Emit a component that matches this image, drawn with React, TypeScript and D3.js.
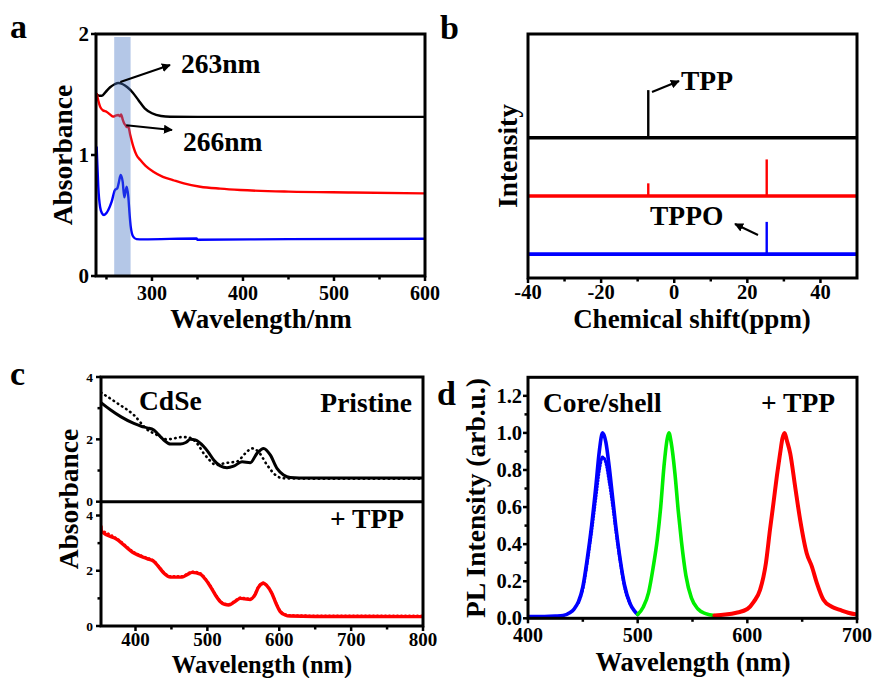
import React from 'react';
import * as d3 from 'd3';

type P = [number, number];
const FONT = "'Liberation Serif', 'Times New Roman', Times, serif";

// ---------- Panel a (UV-vis absorbance) ----------
const aBlack: P[] = [[239.5,1.50],[242,1.49],[245,1.49],[249,1.52],[254,1.56],[259,1.585],[263,1.595],[268,1.585],[273,1.56],[279,1.515],[285,1.455],[292,1.386],[300,1.345],[310,1.322],[320,1.316],[350,1.315],[450,1.315],[600,1.315]];
const aRed: P[] = [[239.3,1.51],[241,1.45],[243,1.40],[246,1.37],[250,1.358],[254,1.335],[257.5,1.317],[260,1.325],[263,1.33],[265,1.32],[266,1.335],[268,1.29],[269.5,1.26],[271,1.245],[272.5,1.23],[274,1.235],[276,1.17],[279.5,1.07],[283,1.0],[287,0.96],[293,0.91],[301.5,0.862],[312,0.82],[323,0.793],[335,0.765],[353,0.738],[375,0.722],[397,0.711],[450,0.697],[520,0.69],[600,0.683]];
const aBlue: P[] = [[239.2,1.07],[240,0.92],[241,0.74],[243,0.57],[245,0.52],[247.3,0.504],[250,0.52],[252,0.545],[255.7,0.614],[259.3,0.71],[261.9,0.725],[263.5,0.77],[265.6,0.835],[267.8,0.78],[269.6,0.65],[272.2,0.738],[274,0.655],[275.5,0.50],[276.6,0.41],[279.4,0.325],[283,0.305],[290,0.303],[349,0.31],[350,0.30],[450,0.305],[600,0.308]];
const aBand: P = [258.5, 276.5];
const aXTicks = [300, 400, 500, 600];
const aXMinor = [250, 350, 450, 550];
const aYTicks = [0, 1, 2];

// ---------- Panel b (31P NMR) ----------
const bXTicks = [-40, -20, 0, 20, 40];
const bXMinor = [-30, -10, 10, 30];
const bOffsets = [0.575, 0.336, 0.098]; // black, red, blue baselines
const bColors = ['#000000', '#ff0000', '#0000ff'];
const bPeaks: { ppm: number; h: number }[][] = [
  [{ ppm: -7.1, h: 0.195 }],
  [{ ppm: -7.1, h: 0.052 }, { ppm: 25.3, h: 0.15 }],
  [{ ppm: 25.3, h: 0.132 }],
];

// ---------- Panel c (CdSe absorbance) ----------
const cSolid: P[] = [[352,3.18],[365,2.95],[380,2.72],[397.7,2.51],[408,2.42],[416,2.37],[425.5,2.30],[432,2.15],[439.3,1.98],[448.6,1.85],[462.5,1.85],[470,1.9],[476.4,2.0],[483.3,1.98],[494.9,1.77],[501,1.6],[508.8,1.34],[518,1.15],[527.3,1.09],[536.6,1.14],[548.2,1.28],[559.7,1.25],[569,1.55],[578.2,1.71],[587.5,1.5],[596.8,1.07],[606,0.86],[615.3,0.78],[640,0.76],[700,0.76],[800,0.76]];
const cDotted: P[] = [[352,3.5],[374.6,3.16],[397.7,2.78],[416,2.32],[430,2.14],[444,2.0],[452,2.02],[462.5,2.07],[471.8,2.07],[485.7,1.87],[494.9,1.55],[502,1.36],[508.8,1.21],[515,1.18],[522.7,1.23],[532,1.26],[541.2,1.29],[552.8,1.55],[562,1.71],[571.2,1.6],[583,1.18],[596.8,0.82],[606,0.75],[650,0.74],[800,0.74]];
const cRed: P[] = [[352,3.6],[352.5,3.43],[374.6,3.13],[397.7,2.64],[416,2.44],[425.5,2.34],[432,2.15],[439.3,1.92],[448.6,1.77],[464.8,1.77],[472,1.86],[478.7,1.94],[490.3,1.88],[497,1.7],[504.2,1.43],[511,1.13],[518.1,0.88],[524,0.78],[529.7,0.76],[537,0.86],[545.8,1.0],[552,0.98],[559.7,0.96],[566,1.12],[571,1.4],[578.2,1.55],[583,1.45],[589.8,1.18],[595,0.85],[601.4,0.52],[608,0.4],[615.3,0.36],[650,0.345],[800,0.34]];
const cRedDot: P[] = [[352,3.47],[374.6,3.16],[397.7,2.68],[416,2.47],[425.5,2.37],[432,2.18],[439.3,1.95],[448.6,1.8],[464.8,1.8],[472,1.89],[478.7,1.97],[490.3,1.91],[497,1.73],[504.2,1.46],[511,1.16],[518.1,0.91],[524,0.81],[529.7,0.79],[537,0.89],[545.8,1.03],[552,1.01],[559.7,0.99],[566,1.15],[571,1.43],[578.2,1.57],[583,1.47],[589.8,1.2],[595,0.88],[601.4,0.55],[608,0.43],[615.3,0.39],[650,0.375],[800,0.37]];
const cXTicks = [400, 500, 600, 700, 800];
const cXMinor = [450, 550, 650, 750];
const cYTicks = [0, 2, 4];
const cYMinor = [1, 3];

// ---------- Panel d (PL) ----------
const dBlue: P[] = [[400,0.01],[415,0.01],[425,0.012],[432,0.015],[438,0.03],[442,0.05],[446,0.09],[450,0.17],[454,0.32],[458,0.5],[462,0.72],[465,0.9],[468,1.0],[471,0.95],[474,0.82],[477,0.66],[480,0.5],[484,0.32],[488,0.18],[493,0.08],[497,0.04],[500,0.02]];
const dBlueDot: P[] = [[446,0.085],[450,0.16],[454,0.3],[458,0.47],[462,0.66],[465,0.8],[468,0.87],[471,0.84],[474,0.74],[477,0.62],[480,0.48],[484,0.31],[488,0.17],[493,0.08]];
const dGreen: P[] = [[500,0.02],[505,0.06],[510,0.14],[514,0.27],[518,0.43],[521,0.6],[524,0.82],[527,0.97],[528.5,1.0],[530.5,0.95],[534,0.78],[537,0.58],[540,0.41],[544,0.23],[549,0.11],[555,0.05],[562,0.025],[570,0.015]];
const dRed: P[] = [[570,0.015],[580,0.02],[590,0.03],[600,0.05],[606,0.09],[611.6,0.153],[617,0.3],[620.7,0.48],[623.8,0.62],[627,0.77],[629.9,0.89],[632,0.97],[634,1.0],[636,0.96],[639.1,0.89],[643.6,0.71],[648.2,0.53],[654.2,0.35],[658.8,0.28],[663.4,0.19],[669.4,0.1],[677,0.062],[684.6,0.045],[692,0.03],[700,0.02]];
const dXTicks = [400, 500, 600, 700];
const dXMinor = [450, 550, 650];
const dYTicks = [0, 0.2, 0.4, 0.6, 0.8, 1.0, 1.2];
const dYMinor = [0.1, 0.3, 0.5, 0.7, 0.9, 1.1];

type Scale = d3.ScaleLinear<number, number>;

function BottomTicks({ x, y0, majors, minors, labelY, fs, fmt }: { x: Scale; y0: number; majors: number[]; minors: number[]; labelY: number; fs: number; fmt?: (v: number) => string }) {
  return (
    <g>
      {majors.map((v) => (
        <g key={'M' + v}>
          <line x1={x(v)} x2={x(v)} y1={y0} y2={y0 + 5} stroke="#000" strokeWidth={2.5} />
          <text x={x(v)} y={labelY} textAnchor="middle" fontSize={fs}>{fmt ? fmt(v) : String(v)}</text>
        </g>
      ))}
      {minors.map((v) => (
        <line key={'m' + v} x1={x(v)} x2={x(v)} y1={y0} y2={y0 + 3.5} stroke="#000" strokeWidth={2.5} />
      ))}
    </g>
  );
}

function LeftTicks({ y, x0, majors, minors, labelX, fs, fmt }: { y: Scale; x0: number; majors: number[]; minors: number[]; labelX: number; fs: number; fmt?: (v: number) => string }) {
  return (
    <g>
      {majors.map((v) => (
        <g key={'M' + v}>
          <line x1={x0 - 5} x2={x0} y1={y(v)} y2={y(v)} stroke="#000" strokeWidth={2.5} />
          <text x={labelX} y={y(v)} dy="0.35em" textAnchor="end" fontSize={fs}>{fmt ? fmt(v) : String(v)}</text>
        </g>
      ))}
      {minors.map((v) => (
        <line key={'m' + v} x1={x0 - 3.5} x2={x0} y1={y(v)} y2={y(v)} stroke="#000" strokeWidth={2.5} />
      ))}
    </g>
  );
}

export default function App() {
  // ---- scales
  const xa = d3.scaleLinear().domain([238.5, 600]).range([96, 425]);
  const ya = d3.scaleLinear().domain([0, 2]).range([276, 34]);
  const xb = d3.scaleLinear().domain([-40, 50]).range([528, 857]);
  const yb = d3.scaleLinear().domain([0, 1]).range([278, 34]);
  const xc = d3.scaleLinear().domain([352, 800]).range([101, 423]);
  const ycTop = d3.scaleLinear().domain([0, 4]).range([501.7, 377]);
  const ycBot = d3.scaleLinear().domain([0, 4.5]).range([626, 501.7]);
  const xd = d3.scaleLinear().domain([400, 700]).range([528, 857]);
  const yd = d3.scaleLinear().domain([0, 1.3]).range([618.3, 377.3]);

  const la = d3.line<P>().x((d) => xa(d[0])).y((d) => ya(d[1])).curve(d3.curveMonotoneX);
  const lcT = d3.line<P>().x((d) => xc(d[0])).y((d) => ycTop(d[1])).curve(d3.curveMonotoneX);
  const lcB = d3.line<P>().x((d) => xc(d[0])).y((d) => ycBot(d[1])).curve(d3.curveMonotoneX);
  const ld = d3.line<P>().x((d) => xd(d[0])).y((d) => yd(d[1])).curve(d3.curveMonotoneX);

  const t = { fontFamily: FONT, fontWeight: 'bold' as const };

  return (
    <svg width={873} height={678} style={{ position: 'absolute', left: 0, top: 0, background: '#fff' }} {...t}>
      <defs>
        <marker id="arr" viewBox="0 0 10 10" refX="9" refY="5" markerWidth="9" markerHeight="9" markerUnits="userSpaceOnUse" orient="auto">
          <path d="M0,0 L10,5 L0,10 z" fill="#000" />
        </marker>
        <clipPath id="ca"><rect x={96} y={34} width={329} height={242} /></clipPath>
        <clipPath id="cc"><rect x={101} y={377} width={322} height={249} /></clipPath>
        <clipPath id="cd"><rect x={528} y={377.3} width={329} height={241} /></clipPath>
      </defs>

      {/* ================= Panel a ================= */}
      <text x={10} y={38} fontSize={34}>a</text>
      <g clipPath="url(#ca)" fill="none" strokeLinejoin="round">
        <path d={la(aBlack) || ''} stroke="#000" strokeWidth={2.4} />
        <path d={la(aRed) || ''} stroke="#ff0000" strokeWidth={2.4} />
        <path d={la(aBlue) || ''} stroke="#0000ff" strokeWidth={2.4} />
        <rect x={xa(aBand[0])} y={ya(2) + 3} width={xa(aBand[1]) - xa(aBand[0])} height={ya(0) - ya(2) - 3} fill="#4472c4" fillOpacity={0.4} stroke="none" />
      </g>
      <rect x={96} y={34} width={329} height={242} fill="none" stroke="#000" strokeWidth={3} />
      <BottomTicks x={xa} y0={276} majors={aXTicks} minors={aXMinor} labelY={299.5} fs={20} />
      <LeftTicks y={ya} x0={96} majors={aYTicks} minors={[]} labelX={89} fs={21} />
      <line x1={xa(263) + 2} y1={ya(1.595) - 1} x2={170} y2={65} stroke="#000" strokeWidth={2} markerEnd="url(#arr)" />
      <text x={181} y={73} fontSize={27.5}>263nm</text>
      <line x1={xa(269.5) + 2} y1={ya(1.245)} x2={172} y2={130} stroke="#000" strokeWidth={2} markerEnd="url(#arr)" />
      <text x={183} y={151} fontSize={27.5}>266nm</text>
      <text x={261} y={328} textAnchor="middle" fontSize={27}>Wavelength/nm</text>
      <text transform="translate(71.5,155) rotate(-90)" textAnchor="middle" fontSize={27.5}>Absorbance</text>

      {/* ================= Panel b ================= */}
      <text x={440} y={39} fontSize={34}>b</text>
      {bOffsets.map((off, i) => (
        <g key={'nmr' + i}>
          <line x1={xb(-40)} x2={xb(50)} y1={yb(off)} y2={yb(off)} stroke={bColors[i]} strokeWidth={3.6} />
          {bPeaks[i].map((p, j) => (
            <line key={j} x1={xb(p.ppm)} x2={xb(p.ppm)} y1={yb(off)} y2={yb(off + p.h)} stroke={bColors[i]} strokeWidth={2.4} />
          ))}
        </g>
      ))}
      <rect x={528} y={34} width={329} height={244} fill="none" stroke="#000" strokeWidth={3} />
      <BottomTicks x={xb} y0={278} majors={bXTicks} minors={bXMinor} labelY={298.5} fs={20.5} />
      <line x1={652} y1={92} x2={679} y2={81} stroke="#000" strokeWidth={2} markerEnd="url(#arr)" />
      <text x={681} y={90} fontSize={27.5}>TPP</text>
      <line x1={758} y1={235} x2={735} y2={224} stroke="#000" strokeWidth={2} markerEnd="url(#arr)" />
      <text x={650} y={225} fontSize={27.5}>TPPO</text>
      <text x={692} y={328} textAnchor="middle" fontSize={27}>Chemical shift(ppm)</text>
      <text transform="translate(517,156) rotate(-90)" textAnchor="middle" fontSize={27.5}>Intensity</text>

      {/* ================= Panel c ================= */}
      <text x={10} y={385} fontSize={34}>c</text>
      <g clipPath="url(#cc)" fill="none" strokeLinejoin="round" strokeLinecap="round">
        <path d={lcT(cDotted) || ''} stroke="#000" strokeWidth={2.6} strokeDasharray="0.5,4.5" />
        <path d={lcT(cSolid) || ''} stroke="#000" strokeWidth={3} />
        <path d={lcB(cRed) || ''} stroke="#ff0000" strokeWidth={3.4} />
        <path d={lcB(cRedDot) || ''} stroke="#ff0000" strokeWidth={2.4} strokeDasharray="0.5,3.5" />
      </g>
      <rect x={101} y={377} width={322} height={249} fill="none" stroke="#000" strokeWidth={3} />
      <line x1={101} x2={423} y1={501.7} y2={501.7} stroke="#000" strokeWidth={3} />
      <BottomTicks x={xc} y0={626} majors={cXTicks} minors={cXMinor} labelY={646} fs={19} />
      <LeftTicks y={ycTop} x0={101} majors={cYTicks} minors={cYMinor} labelX={93} fs={13.5} />
      <LeftTicks y={ycBot} x0={101} majors={cYTicks} minors={cYMinor} labelX={93} fs={13.5} />
      <text x={139} y={410} fontSize={27.5}>CdSe</text>
      <text x={412} y={412} textAnchor="end" fontSize={27.5}>Pristine</text>
      <text x={404} y={528} textAnchor="end" fontSize={27.5}>+ TPP</text>
      <text x={262} y={672.5} textAnchor="middle" fontSize={24.5}>Wavelength (nm)</text>
      <text transform="translate(78,499) rotate(-90)" textAnchor="middle" fontSize={27.5}>Absorbance</text>

      {/* ================= Panel d ================= */}
      <text x={437} y={405} fontSize={34}>d</text>
      <g clipPath="url(#cd)" fill="none" strokeLinejoin="round" strokeLinecap="round">
        <path d={ld(dBlue) || ''} stroke="#0000ff" strokeWidth={3.6} />
        <path d={ld(dBlueDot) || ''} stroke="#0000ff" strokeWidth={3.2} strokeDasharray="1,2" />
        <path d={ld(dGreen) || ''} stroke="#00ee00" strokeWidth={3.6} />
        <path d={ld(dRed) || ''} stroke="#ff0000" strokeWidth={4} />
      </g>
      <rect x={528} y={377.3} width={329} height={241} fill="none" stroke="#000" strokeWidth={3} />
      <BottomTicks x={xd} y0={618.3} majors={dXTicks} minors={dXMinor} labelY={642} fs={20} />
      <LeftTicks y={yd} x0={528} majors={dYTicks} minors={dYMinor} labelX={522} fs={20.5} fmt={(v) => v.toFixed(1)} />
      <text x={543} y={412} fontSize={27.5}>Core/shell</text>
      <text x={835} y={412} textAnchor="end" fontSize={27.5}>+ TPP</text>
      <text x={693} y={671} textAnchor="middle" fontSize={26.5}>Wavelength (nm)</text>
      <text transform="translate(485,498) rotate(-90)" textAnchor="middle" fontSize={27.5}>PL Intensity (arb.u.)</text>
    </svg>
  );
}
